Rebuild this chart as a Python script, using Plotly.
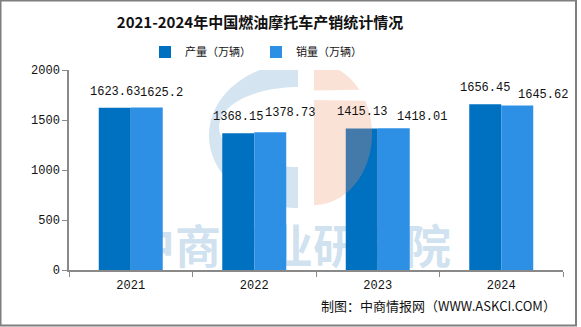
import numpy as np
import plotly.graph_objects as go

# 2021-2024 fuel motorcycle output and sales (10k units)
years = ["2021", "2022", "2023", "2024"]
production = [1623.63, 1368.15, 1415.13, 1656.45]
sales = [1625.2, 1378.73, 1418.01, 1645.62]

series_names = ["产量（万辆）", "销量（万辆）"]
title_text = "2021-2024年中国燃油摩托车产销统计情况"
source_text = "制图：中商情报网（WWW.ASKCI.COM）"
watermark_text = "中商产业研究院"

DARK = "#0070C0"
LIGHT = "#2E90E4"
AXIS = "#898989"
NUM_FONT = "Liberation Mono, DejaVu Sans Mono, monospace"
CJK_FONT = "Noto Sans CJK SC, Noto Sans, sans-serif"

W, H = 581, 327
L, R, T, B = 69, 18, 70, 57
PW, PH = W - L - R, H - T - B


def px_to_paper(px, py):
    return (px - L) / PW, (H - B - py) / PH


def poly_path(points):
    # points given in the backdrop axes' pixel-like coordinates
    return "M " + " L ".join(f"{x:.2f},{y:.2f}" for x, y in points) + " Z"


def half_ellipse(cx, cy, rx, ry, side, n=60):
    # side=-1 -> left half, side=+1 -> right half; runs top to bottom
    t = np.linspace(-np.pi / 2, np.pi / 2, n)
    return [(float(cx + side * rx * np.cos(a)), float(cy + ry * np.sin(a))) for a in t]


fig = go.Figure()

# backdrop watermark on the base (hidden) axes so the bars sit on top of it
fig.add_trace(go.Scatter(x=[290], y=[251], mode="text", text=[f"<b>{watermark_text}</b>"],
                         textposition="middle center", cliponaxis=False,
                         textfont=dict(family=CJK_FONT, size=46, color="rgba(90,150,200,0.28)"),
                         hoverinfo="skip", showlegend=False, xaxis="x", yaxis="y"))

fig.add_trace(go.Bar(x=years, y=production, name=series_names[0],
                     marker=dict(color=DARK, line=dict(width=0)), xaxis="x2", yaxis="y2"))
fig.add_trace(go.Bar(x=years, y=sales, name=series_names[1],
                     marker=dict(color=LIGHT, line=dict(width=0)), xaxis="x2", yaxis="y2"))

# value labels: (x offset, y offset) in pixels relative to each bar top
prod_shift = [(-16, 16), (-16, 16), (-16, 16), (-16, 16)]
sales_shift = [(31, 14), (36, 19), (44, 11), (42, 10)]
annotations = []
for i, (v, (dx, dy)) in enumerate(zip(production, prod_shift)):
    annotations.append(dict(x=i, y=v, xref="x2", yref="y2", text=f"{v:g}",
                            showarrow=False, xshift=dx, yshift=dy,
                            font=dict(family=NUM_FONT, size=12, color="#111")))
for i, (v, (dx, dy)) in enumerate(zip(sales, sales_shift)):
    annotations.append(dict(x=i, y=v, xref="x2", yref="y2", text=f"{v:g}",
                            showarrow=False, xshift=dx, yshift=dy,
                            font=dict(family=NUM_FONT, size=12, color="#111")))

# source note
sx, sy = px_to_paper(558, 305)
annotations.append(dict(x=sx, y=sy, xref="paper", yref="paper", text=source_text,
                        showarrow=False, xanchor="right", yanchor="middle",
                        font=dict(family=CJK_FONT, size=13, color="#111")))

shapes = []
# logo: blue left half ring (behind bars)
outer = half_ellipse(298, 135.5, 89, 72.5, -1)
inner = half_ellipse(298, 127, 79, 40, -1)[::-1]
blue_pts = [(298, 63)] + outer + [(298, 208), (298, 167)] + inner + [(298, 87)]
shapes.append(dict(type="path", path=poly_path(blue_pts), xref="x", yref="y",
                   fillcolor="rgba(90,150,200,0.26)", line=dict(width=0), layer="below"))
# logo: salmon right half disc with a white stripe (over bars)
right = half_ellipse(314, 134, 58, 71, 1, n=120)
top_part = [(x, y) for x, y in right if y <= 90.5]
bot_part = [(x, y) for x, y in right if y >= 100]
for part in ([(314, 63)] + top_part + [(314, 90.5)],
             [(314, 100)] + bot_part + [(314, 205)]):
    shapes.append(dict(type="path", path=poly_path(part), xref="x", yref="y",
                       fillcolor="rgba(240,150,110,0.28)", line=dict(width=0), layer="above"))
# outer frame
x0, y0 = px_to_paper(0.5, 0.5)
x1, y1 = px_to_paper(576, 325.5)
shapes.append(dict(type="rect", x0=x0, y0=y1, x1=x1, y1=y0, xref="paper", yref="paper",
                   line=dict(color="#7F7F7F", width=2), fillcolor="rgba(0,0,0,0)", layer="above"))

tx, _ = px_to_paper(260, 0)
lx, ly = px_to_paper(256, 52)

fig.update_layout(
    width=W, height=H,
    margin=dict(l=L, r=R, t=T, b=B, pad=0),
    paper_bgcolor="white", plot_bgcolor="rgba(0,0,0,0)",
    barmode="group", bargap=0.482, bargroupgap=0,
    title=dict(text=f"<b>{title_text}</b>", x=tx, xref="paper", xanchor="center",
               y=1 - 23 / H, yanchor="middle",
               font=dict(family=CJK_FONT, size=15, color="#111")),
    legend=dict(orientation="h", x=lx, y=ly, xanchor="center", yanchor="middle",
                font=dict(family=CJK_FONT, size=11, color="#111"),
                itemwidth=30, bgcolor="rgba(0,0,0,0)", traceorder="normal"),
    # hidden backdrop axes in pixel units of the page
    xaxis=dict(range=[L, W - R], visible=False, fixedrange=True),
    yaxis=dict(range=[H - B, T], visible=False, fixedrange=True),
    xaxis2=dict(type="category", range=[-0.5, 3.5], autorange=False,
                overlaying="x", anchor="y2",
                showline=True, linecolor=AXIS, linewidth=1.5,
                ticks="outside", tickson="boundaries", ticklen=5, tickcolor=AXIS,
                ticklabelstandoff=3,
                showgrid=False, tickfont=dict(family=NUM_FONT, size=12, color="#111")),
    yaxis2=dict(range=[0, 2000], autorange=False, tickvals=[0, 500, 1000, 1500, 2000],
                overlaying="y", anchor="x2", side="left",
                showline=True, linecolor=AXIS, linewidth=1.5, ticks="outside",
                ticklen=5, tickcolor=AXIS, showgrid=False, zeroline=False,
                tickfont=dict(family=NUM_FONT, size=12, color="#111")),
    annotations=annotations,
    shapes=shapes,
    showlegend=True,
)

fig.write_html("out.html")
